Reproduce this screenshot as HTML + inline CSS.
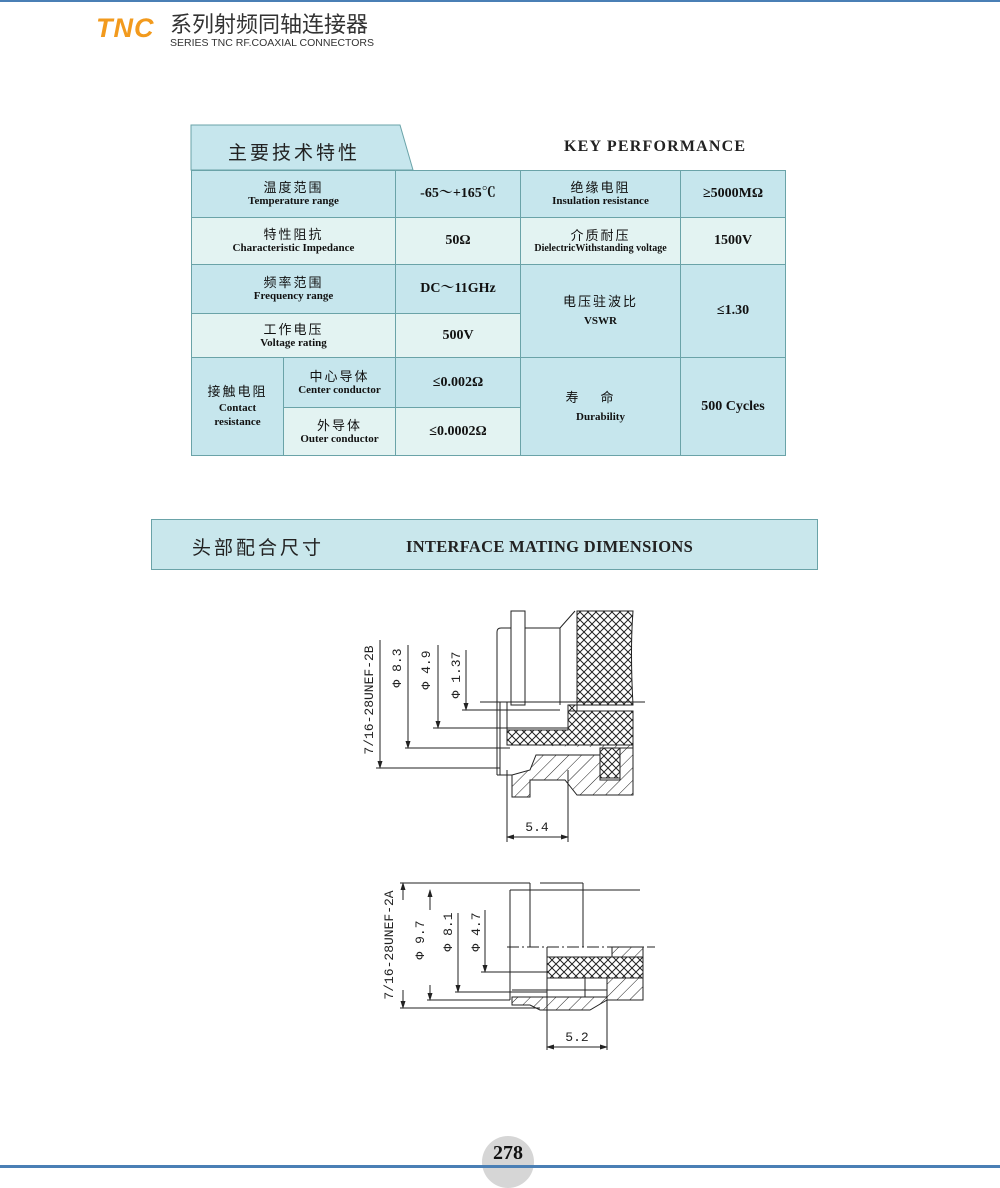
<!DOCTYPE html>
<html><head><meta charset="utf-8"><style>
body{margin:0;width:1000px;height:1168px;position:relative;background:#fff;overflow:hidden;font-family:"Liberation Serif","Noto Serif CJK SC",serif;}
.a{position:absolute}
.c{position:absolute;box-sizing:border-box;border:1px solid #6aa3a8;display:flex;flex-direction:column;align-items:center;justify-content:center;text-align:center;color:#111;line-height:1.25}
.d{background:#c6e6ed}.l{background:#e3f3f2}
.zh{font-family:"Noto Sans CJK SC",sans-serif;font-size:13px;letter-spacing:2px}
.en{font-weight:bold;font-size:11px}
.v{font-weight:bold;font-size:14px}
</style></head><body>
<div class="a" style="left:0;top:0;width:1000px;height:2px;background:#4a7fb5"></div>
<div class="a" style="left:96px;top:13px;font-family:'Liberation Sans',sans-serif;font-weight:bold;font-style:italic;font-size:27px;color:#f29a1d;letter-spacing:1px">TNC</div>
<div class="a" style="left:170px;top:10px;font-family:'Noto Sans CJK SC',sans-serif;font-size:22px;color:#333;line-height:27px">系列射频同轴连接器</div>
<div class="a" style="left:170px;top:37px;font-family:'Liberation Sans',sans-serif;font-size:10.5px;color:#333">SERIES TNC RF.COAXIAL CONNECTORS</div>

<svg class="a" style="left:0;top:0" width="1000" height="1168">
<polygon points="191,125 400,125 413,170 191,170" fill="#c6e6ed" stroke="#6aa3a8"/>
</svg>
<div class="a" style="left:228px;top:138px;font-family:'Noto Sans CJK SC',sans-serif;font-size:19px;letter-spacing:3px;color:#222">主要技术特性</div>
<div class="a" style="left:564px;top:138px;font-weight:bold;font-size:16px;letter-spacing:1.2px;color:#222">KEY PERFORMANCE</div>

<div class="c d" style="left:191px;top:170px;width:205px;height:48px"><span class="zh">温度范围</span><span class="en">Temperature range</span></div>
<div class="c d" style="left:395px;top:170px;width:126px;height:48px"><span class="v">-65～+165℃</span></div>
<div class="c d" style="left:520px;top:170px;width:161px;height:48px"><span class="zh">绝缘电阻</span><span class="en">Insulation resistance</span></div>
<div class="c d" style="left:680px;top:170px;width:106px;height:48px"><span class="v">≥5000MΩ</span></div>

<div class="c l" style="left:191px;top:217px;width:205px;height:48px"><span class="zh">特性阻抗</span><span class="en">Characteristic Impedance</span></div>
<div class="c l" style="left:395px;top:217px;width:126px;height:48px"><span class="v">50Ω</span></div>
<div class="c l" style="left:520px;top:217px;width:161px;height:48px"><span class="zh">介质耐压</span><span class="en" style="font-size:10px">DielectricWithstanding voltage</span></div>
<div class="c l" style="left:680px;top:217px;width:106px;height:48px"><span class="v">1500V</span></div>

<div class="c d" style="left:191px;top:264px;width:205px;height:50px"><span class="zh">频率范围</span><span class="en">Frequency range</span></div>
<div class="c d" style="left:395px;top:264px;width:126px;height:50px"><span class="v">DC～11GHz</span></div>
<div class="c d" style="left:520px;top:264px;width:161px;height:94px"><span class="zh">电压驻波比</span><span class="en" style="margin-top:6px">VSWR</span></div>
<div class="c d" style="left:680px;top:264px;width:106px;height:94px"><span class="v">≤1.30</span></div>

<div class="c l" style="left:191px;top:313px;width:205px;height:45px"><span class="zh">工作电压</span><span class="en">Voltage rating</span></div>
<div class="c l" style="left:395px;top:313px;width:126px;height:45px"><span class="v">500V</span></div>

<div class="c d" style="left:191px;top:357px;width:93px;height:99px"><span class="zh">接触电阻</span><span class="en" style="margin-top:3px">Contact<br>resistance</span></div>
<div class="c d" style="left:283px;top:357px;width:113px;height:51px"><span class="zh">中心导体</span><span class="en">Center conductor</span></div>
<div class="c d" style="left:395px;top:357px;width:126px;height:51px"><span class="v">≤0.002Ω</span></div>
<div class="c l" style="left:283px;top:407px;width:113px;height:49px"><span class="zh">外导体</span><span class="en">Outer conductor</span></div>
<div class="c l" style="left:395px;top:407px;width:126px;height:49px"><span class="v">≤0.0002Ω</span></div>
<div class="c d" style="left:520px;top:357px;width:161px;height:99px"><span class="zh" style="letter-spacing:22px">寿命</span><span class="en" style="margin-top:6px">Durability</span></div>
<div class="c d" style="left:680px;top:357px;width:106px;height:99px"><span class="v">500 Cycles</span></div>

<div class="a" style="left:151px;top:519px;width:667px;height:51px;box-sizing:border-box;background:#c9e7ec;border:1px solid #6aa3a8"></div>
<div class="a" style="left:192px;top:533px;font-family:'Noto Sans CJK SC',sans-serif;font-size:19px;letter-spacing:3px;color:#222">头部配合尺寸</div>
<div class="a" style="left:406px;top:537px;font-weight:bold;font-size:16.5px;color:#222;letter-spacing:0.3px">INTERFACE MATING DIMENSIONS</div>

<svg class="a" style="left:0;top:0" width="1000" height="1168" font-family="Liberation Mono, monospace" font-size="13" fill="none" stroke="#222" stroke-width="1">
<defs>
<pattern id="x" width="8" height="8" patternUnits="userSpaceOnUse"><path d="M0,0L8,8M8,0L0,8" stroke="#222" stroke-width="1"/></pattern>
<pattern id="h" width="9" height="9" patternUnits="userSpaceOnUse" patternTransform="rotate(45)"><path d="M0,0L0,9" stroke="#222" stroke-width="1"/></pattern>
<marker id="ar" markerWidth="8" markerHeight="8" refX="7" refY="4" orient="auto" markerUnits="userSpaceOnUse"><path d="M0,1.5L8,4L0,6.5z" fill="#222" stroke="none"/></marker>
</defs>
<path d="M577,611 L633,611 Q630,650 633,705 L568,705 L568,711 L577,711z" fill="url(#x)"/>
<path d="M568,711 L633,711 L633,745 L507,745 L507,730 L568,730z" fill="url(#x)"/>
<rect x="600" y="748" width="20" height="30" fill="url(#x)"/>
<path d="M507,745 L633,745 L633,795 L577,795 L565,780 L530,780 L530,797 L512,797 L512,775 L530,770 L536,755 L600,755 L600,780 L620,780 L620,748 L633,748" fill="url(#h)"/>
<path d="M511,611 L525,611 L525,705 L511,705z M497,775 L497,632 Q497,628 501,628 L511,628 M525,628 L560,628 L575,611 M560,628 L560,705 M497,775 L512,775"/>
<path d="M480,702 L645,702" />
<path d="M500,702 L500,775 M507,702 L507,745"/>
<path d="M380,640 L380,768" marker-end="url(#ar)"/><path d="M376,768 L500,768"/>
<path d="M408,645 L408,748" marker-end="url(#ar)"/><path d="M405,748 L510,748"/>
<path d="M438,645 L438,728" marker-end="url(#ar)"/><path d="M433,728 L568,728"/>
<path d="M466,650 L466,710" marker-end="url(#ar)"/><path d="M462,710 L560,710"/>
<path d="M507,770 L507,842 M568,770 L568,842"/>
<path d="M537,837 L507,837" marker-end="url(#ar)"/><path d="M537,837 L568,837" marker-end="url(#ar)"/>
<g fill="#222" stroke="none">
<text transform="translate(373,700) rotate(-90)" text-anchor="middle">7/16-28UNEF-2B</text>
<text transform="translate(401,668) rotate(-90)" text-anchor="middle">Φ 8.3</text>
<text transform="translate(430,670) rotate(-90)" text-anchor="middle">Φ 4.9</text>
<text transform="translate(460,675) rotate(-90)" text-anchor="middle">Φ 1.37</text>
<text x="537" y="831" text-anchor="middle">5.4</text>
</g>
<path d="M547,957 L643,957 L643,978 L547,978z" fill="url(#x)"/>
<path d="M612,947 L643,947 L643,957 L612,957z M607,978 L643,978 L643,1000 L607,1000z M512,997 L607,997 L607,1000 L590,1010 L540,1010 L530,1005 L512,1005z" fill="url(#h)"/>
<path d="M400,883 L530,883 M540,883 L583,883 M510,890 L640,890 M510,890 L510,1000 M530,883 L530,947 M583,883 L583,947 M547,947 L547,1010 M585,978 L585,997 M512,990 L607,990"/>
<path d="M507,947 L655,947" stroke-dasharray="12,3,2,3"/>
<path d="M403,900 L403,883" marker-end="url(#ar)"/><path d="M403,990 L403,1008" marker-end="url(#ar)"/><path d="M400,1008 L540,1008"/>
<path d="M430,910 L430,890" marker-end="url(#ar)"/><path d="M430,985 L430,1000" marker-end="url(#ar)"/><path d="M427,1000 L510,1000"/>
<path d="M458,913 L458,992" marker-end="url(#ar)"/><path d="M455,992 L547,992"/>
<path d="M485,910 L485,972" marker-end="url(#ar)"/><path d="M481,972 L547,972"/>
<path d="M547,1010 L547,1050 M607,1000 L607,1050"/>
<path d="M577,1047 L547,1047" marker-end="url(#ar)"/><path d="M577,1047 L607,1047" marker-end="url(#ar)"/>
<g fill="#222" stroke="none">
<text transform="translate(393,945) rotate(-90)" text-anchor="middle">7/16-28UNEF-2A</text>
<text transform="translate(424,940) rotate(-90)" text-anchor="middle">Φ 9.7</text>
<text transform="translate(452,932) rotate(-90)" text-anchor="middle">Φ 8.1</text>
<text transform="translate(480,932) rotate(-90)" text-anchor="middle">Φ 4.7</text>
<text x="577" y="1041" text-anchor="middle">5.2</text>
</g>
</svg>

<div class="a" style="left:482px;top:1136px;width:52px;height:52px;border-radius:50%;background:#d6d6d6"></div>
<div class="a" style="left:482px;top:1142px;width:52px;text-align:center;font-weight:bold;font-size:20px;color:#111">278</div>
<div class="a" style="left:0;top:1165px;width:1000px;height:3px;background:#4a7fb5"></div>
</body></html>
